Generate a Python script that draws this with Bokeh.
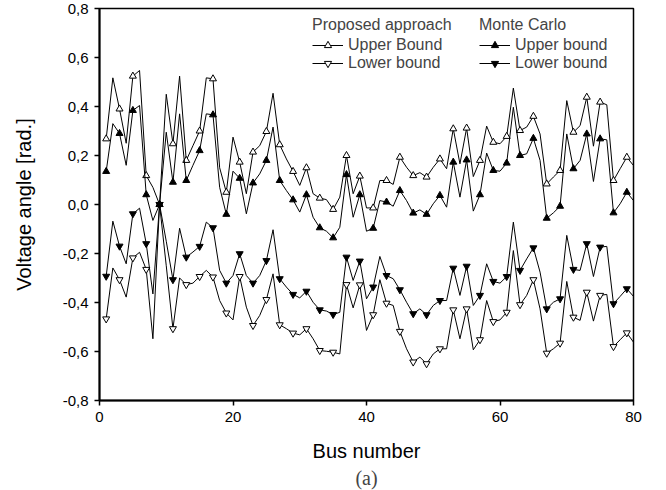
from bokeh.plotting import figure
from bokeh.models import (FixedTicker, CustomJSTickFormatter, Legend, LegendItem,
                          Title, Range1d)
from bokeh.embed import file_html
from bokeh.resources import INLINE

# ---------------- data ----------------
bus = list(range(1, 81))

proposed_upper = [0.268, 0.517, 0.39, 0.25, 0.524, 0.547, 0.118, 0.07, 0.0, 0.45,
                  0.248, 0.524, 0.18, 0.24, 0.30, 0.517, 0.513, 0.15, 0.05, 0.275,
                  0.173, 0.044, 0.214, 0.24, 0.298, 0.454, 0.244, 0.186, 0.135, 0.078,
                  0.15, 0.044, 0.026, 0.02, -0.02, 0.03, 0.20, 0.044, 0.116, -0.014,
                  -0.014, 0.098, 0.098, 0.082, 0.193, 0.152, 0.118, 0.13, 0.112, 0.152,
                  0.186, 0.146, 0.309, 0.166, 0.312, 0.114, 0.18, 0.32, 0.254, 0.248,
                  0.278, 0.475, 0.302, 0.316, 0.36, 0.288, 0.084, 0.112, 0.139, 0.424,
                  0.295, 0.322, 0.438, 0.238, 0.418, 0.407, 0.098, 0.146, 0.193, 0.159]

proposed_lower = [-0.467, -0.259, -0.307, -0.378, -0.218, -0.195, -0.265, -0.548, 0.0, -0.25,
                  -0.507, -0.3, -0.327, -0.321, -0.294, -0.269, -0.296, -0.392, -0.443, -0.471,
                  -0.294, -0.419, -0.494, -0.453, -0.388, -0.283, -0.491, -0.507, -0.525, -0.532,
                  -0.507, -0.548, -0.596, -0.599, -0.603, -0.61, -0.327, -0.422, -0.328, -0.514,
                  -0.45, -0.307, -0.403, -0.412, -0.518, -0.589, -0.643, -0.623, -0.65, -0.61,
                  -0.589, -0.589, -0.43, -0.548, -0.426, -0.593, -0.552, -0.392, -0.478, -0.471,
                  -0.44, -0.188, -0.409, -0.371, -0.307, -0.426, -0.607, -0.589, -0.566, -0.314,
                  -0.46, -0.473, -0.358, -0.476, -0.371, -0.367, -0.58, -0.552, -0.524, -0.562]

mc_upper = [0.135, 0.33, 0.29, 0.16, 0.384, 0.404, 0.04, -0.065, 0.0, 0.295,
            0.091, 0.37, 0.098, 0.16, 0.22, 0.37, 0.366, 0.07, -0.04, 0.136,
            0.107, -0.038, 0.088, 0.125, 0.18, 0.316, 0.098, 0.057, 0.019, -0.031,
            0.04, -0.052, -0.095, -0.109, -0.136, -0.093, 0.122, -0.052, 0.04, -0.109,
            -0.097, 0.016, 0.01, -0.007, 0.057, 0.016, -0.035, -0.022, -0.04, 0.003,
            0.037, -0.011, 0.173, 0.03, 0.182, -0.027, 0.04, 0.21, 0.139, 0.136,
            0.169, 0.397, 0.2, 0.207, 0.27, 0.18, -0.056, -0.034, -0.007, 0.288,
            0.146, 0.18, 0.288, 0.094, 0.268, 0.264, -0.034, 0.003, 0.05, 0.016]

mc_lower = [-0.293, -0.068, -0.17, -0.242, -0.038, -0.015, -0.16, -0.365, 0.0, -0.15,
            -0.307, -0.097, -0.215, -0.194, -0.171, -0.072, -0.095, -0.269, -0.321, -0.29,
            -0.201, -0.29, -0.321, -0.29, -0.229, -0.103, -0.303, -0.337, -0.367, -0.381,
            -0.354, -0.399, -0.43, -0.435, -0.449, -0.44, -0.215, -0.31, -0.231, -0.385,
            -0.337, -0.212, -0.29, -0.303, -0.348, -0.399, -0.446, -0.426, -0.45, -0.412,
            -0.392, -0.392, -0.26, -0.371, -0.252, -0.412, -0.371, -0.242, -0.314, -0.321,
            -0.294, -0.072, -0.269, -0.222, -0.177, -0.276, -0.426, -0.399, -0.385, -0.126,
            -0.265, -0.269, -0.16, -0.294, -0.174, -0.171, -0.405, -0.375, -0.344, -0.375]

x_ticks = [0, 20, 40, 60, 80]
y_ticks = [-0.8, -0.6, -0.4, -0.2, 0.0, 0.2, 0.4, 0.6, 0.8]

FONT = "Liberation Sans"

# ---------------- figure ----------------
p = figure(width=650, height=490, output_backend="svg", toolbar_location=None,
           x_range=Range1d(0, 80), y_range=Range1d(-0.8, 0.8),
           min_border_left=99, min_border_right=17, min_border_top=8,
           min_border_bottom=90)

p.grid.visible = False
p.outline_line_color = "black"
p.outline_line_width = 1.5
p.background_fill_color = "white"

for ax in (p.xaxis[0], p.yaxis[0]):
    ax.axis_line_width = 2
    ax.axis_line_color = "black"
    ax.major_tick_line_width = 1.5
    ax.major_tick_out = 5
    ax.major_tick_in = 0
    ax.minor_tick_out = 0
    ax.minor_tick_in = 0
    ax.major_label_text_font = FONT
    ax.major_label_text_font_size = "15px"
    ax.major_label_text_color = "black"
    ax.axis_label_text_font = FONT
    ax.axis_label_text_font_size = "20px"
    ax.axis_label_text_font_style = "normal"
    ax.axis_label_text_color = "black"
    ax.major_label_standoff = 6

p.xaxis.ticker = FixedTicker(ticks=x_ticks)
p.yaxis.ticker = FixedTicker(ticks=y_ticks)
p.yaxis.formatter = CustomJSTickFormatter(code="return tick.toFixed(1).replace('.', ',');")
p.xaxis.axis_label = "Bus number"
p.yaxis.axis_label = "Voltage angle [rad.]"
p.xaxis.axis_label_standoff = 15
p.yaxis.axis_label_standoff = 25

bus_m = bus[::2]

def series(vals, marker, fill):
    l = p.line(bus, vals, line_color="black", line_width=1)
    s = p.scatter(bus_m, vals[::2], marker=marker, size=7, line_color="black",
                  line_width=1, fill_color=fill)
    return [l, s]

r_pu = series(proposed_upper, "triangle", "white")
r_pl = series(proposed_lower, "inverted_triangle", "white")
r_mu = series(mc_upper, "triangle", "black")
r_ml = series(mc_lower, "inverted_triangle", "black")

def make_legend(title, items, loc):
    lg = Legend(title=title, items=items, location=loc,
                title_text_font=FONT, title_text_font_size="16px",
                title_text_font_style="normal", title_standoff=2,
                label_text_font=FONT, label_text_font_size="16px",
                glyph_width=31, glyph_height=18, label_height=18,
                label_standoff=5, spacing=0, padding=0, margin=0,
                border_line_alpha=0, background_fill_alpha=0)
    p.add_layout(lg, "center")

make_legend("Proposed approach",
            [LegendItem(label="Upper Bound", renderers=r_pu),
             LegendItem(label="Lower bound", renderers=r_pl)], (213, 328))
make_legend("Monte Carlo",
            [LegendItem(label="Upper bound", renderers=r_mu),
             LegendItem(label="Lower bound", renderers=r_ml)], (380, 328))

cap = Title(text="(a)", align="center", offset=-48, text_font="Liberation Serif",
            text_font_size="20px", text_font_style="normal", standoff=0)
p.add_layout(cap, "below")

open("out.html", "w").write(file_html(p, INLINE))
